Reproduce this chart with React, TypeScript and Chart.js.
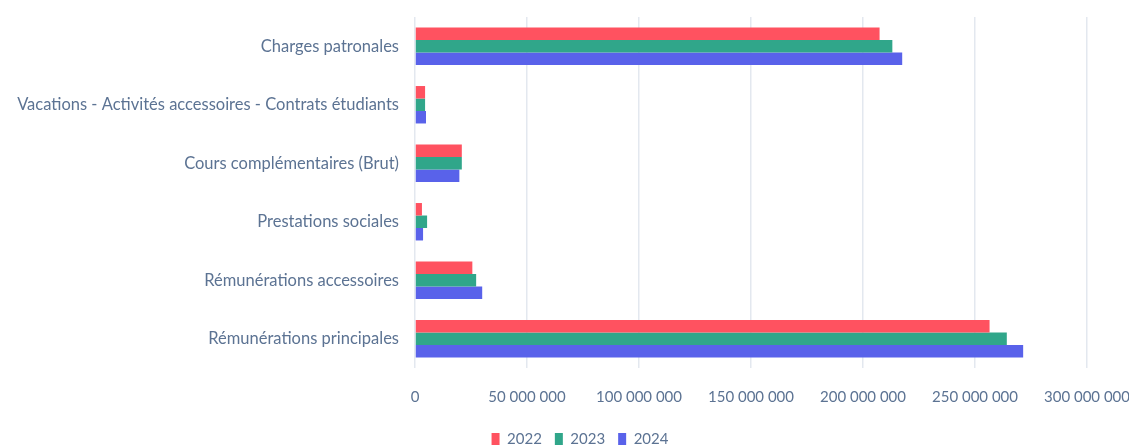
import React, { useEffect, useRef } from "react";
import { Chart, registerables } from "chart.js";

Chart.register(...registerables);

const categories = [
  "Charges patronales",
  "Vacations - Activités accessoires - Contrats étudiants",
  "Cours complémentaires (Brut)",
  "Prestations sociales",
  "Rémunérations accessoires",
  "Rémunérations principales",
];

const values2022 = [207400000, 4500000, 20900000, 3100000, 25600000, 256500000];
const values2023 = [213100000, 4500000, 20900000, 5400000, 27300000, 264200000];
const values2024 = [217500000, 4900000, 19800000, 3600000, 30000000, 271500000];

const seriesLabels = ["2022", "2023", "2024"];
const xTicks = [0, 50000000, 100000000, 150000000, 200000000, 250000000, 300000000];

const fmt = (v: number) =>
  String(Math.round(v)).replace(/\B(?=(\d{3})+(?!\d))/g, " ");

const W = 1161;
const H = 457;

export default function App() {
  const ref = useRef<HTMLCanvasElement | null>(null);
  useEffect(() => {
    if (!ref.current) return;
    const textColor = "#5c7393";
    const font = { family: "Lato", size: 15 };
    const chart = new Chart(ref.current, {
      type: "bar",
      data: {
        labels: categories,
        datasets: [
          { label: seriesLabels[0], data: values2022, backgroundColor: "#ff5260" },
          { label: seriesLabels[1], data: values2023, backgroundColor: "#30a68a" },
          { label: seriesLabels[2], data: values2024, backgroundColor: "#5962ea" },
        ],
      },
      options: {
        indexAxis: "y",
        animation: false,
        responsive: false,
        maintainAspectRatio: false,
        layout: { padding: { top: 17, right: 1, left: 0, bottom: 0 } },
        datasets: { bar: { categoryPercentage: 0.64, barPercentage: 1 } },
        scales: {
          x: {
            min: 0,
            max: 300000000,
            afterBuildTicks: (scale: any) => {
              scale.ticks = xTicks.map((v) => ({ value: v }));
            },
            afterFit: (scale: any) => {
              scale.paddingLeft = 0;
              scale.paddingRight = 74;
              scale.height = scale.height - 8;
            },
            grid: { color: "#e3e8ef", lineWidth: 1.5, drawTicks: false },
            border: { display: false },
            ticks: {
              color: textColor,
              font: { family: "Lato", size: 15, lineHeight: 1 },
              padding: 22,
              maxRotation: 0,
              callback: (v: any) => fmt(Number(v)),
            },
          },
          y: {
            afterFit: (scale: any) => {
              scale.width = 415;
              scale.paddingTop = 0;
              scale.paddingBottom = 0;
            },
            grid: { display: false, drawTicks: false },
            border: { display: false },
            ticks: { color: textColor, font: { family: "Lato", size: 16.5 }, padding: 16 },
          },
        },
        plugins: {
          legend: {
            position: "bottom",
            labels: {
              color: textColor,
              font,
              boxWidth: 8,
              boxHeight: 13,
              padding: 13,
            },
          },
          tooltip: { enabled: false },
        },
      },
    });
    return () => chart.destroy();
  }, []);
  return (
    <div style={{ position: "fixed", left: 0, top: 0, width: W, height: H }}>
      <canvas ref={ref} width={W} height={H} style={{ display: "block" }} />
    </div>
  );
}
